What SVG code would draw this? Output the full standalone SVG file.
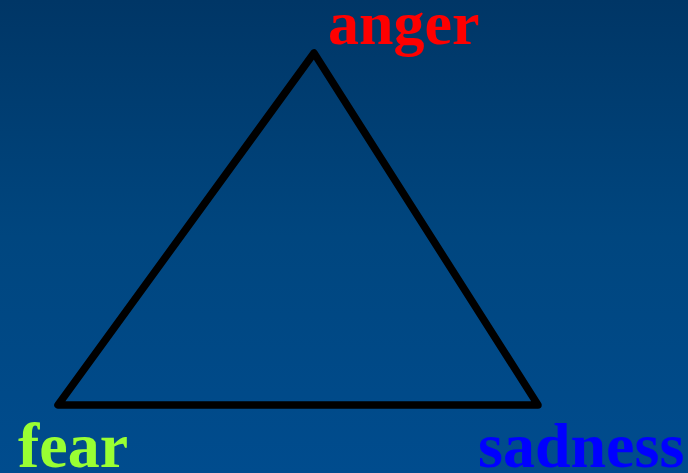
<svg xmlns="http://www.w3.org/2000/svg" width="688" height="473" viewBox="0 0 688 473">
<defs>
<linearGradient id="bg" x1="0" y1="0" x2="0" y2="1">
<stop offset="0" stop-color="#003666"/>
<stop offset="0.5" stop-color="#00467f"/>
<stop offset="1" stop-color="#004c8e"/>
</linearGradient>
<style>
.lbl{font-family:"Liberation Serif","Times New Roman",serif;font-weight:bold;font-size:62px}
.big{font-size:64px}
</style>
</defs>
<rect width="688" height="473" fill="url(#bg)"/>
<g id="connectors">
<polygon points="314,53 58,405 538,405" fill="none" stroke="#000" stroke-width="7.5" stroke-linejoin="round"/>
</g>
<g id="anger"><text class="lbl" x="328" y="44" fill="#ff0000">anger</text></g>
<g id="fear"><text class="lbl big" x="18" y="467" fill="#99ff33">fear</text></g>
<g id="sadness"><text class="lbl big" x="478" y="467" fill="#0000ff">sadness</text></g>
</svg>
